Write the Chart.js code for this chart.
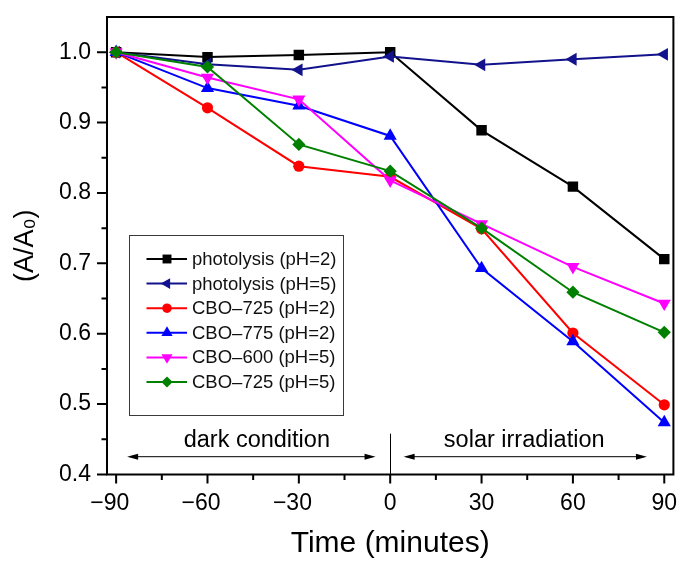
<!DOCTYPE html>
<html>
<head>
<meta charset="utf-8">
<script src="https://cdn.jsdelivr.net/npm/chart.js@4.4.1/dist/chart.umd.min.js"></script>
<style>
  html, body { margin: 0; padding: 0; background: #ffffff; }
  #wrap { width: 681px; height: 561px; }
</style>
</head>
<body>
<div id="wrap"><canvas id="c" width="681" height="561"></canvas></div>
<script>
// Sampling times (minutes); negative = dark adsorption, positive = solar irradiation
const times = [-90, -60, -30, 0, 30, 60, 90];

// Normalised absorbance A/A0 for each run
const photolysisPH2 = [1.000, 0.993, 0.996, 1.000, 0.889, 0.809, 0.706];
const photolysisPH5 = [1.000, 0.983, 0.975, 0.994, 0.982, 0.990, 0.997];
const cbo725PH2     = [1.000, 0.921, 0.838, 0.823, 0.749, 0.601, 0.499];
const cbo775PH2     = [1.000, 0.949, 0.924, 0.881, 0.693, 0.589, 0.474];
const cbo600PH5     = [1.000, 0.964, 0.933, 0.818, 0.756, 0.695, 0.643];
const cbo725PH5     = [1.000, 0.979, 0.869, 0.831, 0.750, 0.659, 0.602];

const seriesNames = [
  'photolysis (pH=2)',
  'photolysis (pH=5)',
  'CBO\u2013725 (pH=2)',
  'CBO\u2013775 (pH=2)',
  'CBO\u2013600 (pH=5)',
  'CBO\u2013725 (pH=5)'
];

// Axis tick values
const xTicks = [-90, -60, -30, 0, 30, 60, 90];
const yTicks = [0.4, 0.5, 0.6, 0.7, 0.8, 0.9, 1.0];

// Phase labels
const phaseLabels = ['dark condition', 'solar irradiation'];

const FONT = '"Liberation Sans", Arial, Helvetica, sans-serif';

const seriesValues = [photolysisPH2, photolysisPH5, cbo725PH2, cbo775PH2, cbo600PH5, cbo725PH5];
const seriesStyles = [
  { color: '#000000', pointStyle: 'rect',     radius: 7.4, rotation: 0 },
  { color: '#12128c', pointStyle: 'triangle', radius: 7.4, rotation: -90 },
  { color: '#ff0000', pointStyle: 'circle',   radius: 5.6, rotation: 0 },
  { color: '#0000ff', pointStyle: 'triangle', radius: 7.6, rotation: 0 },
  { color: '#ff00ff', pointStyle: 'triangle', radius: 7.6, rotation: 180 },
  { color: '#008000', pointStyle: 'rectRot',  radius: 6.6, rotation: 0 }
];

const datasets = seriesValues.map((vals, i) => {
  const s = seriesStyles[i];
  return {
    label: seriesNames[i],
    data: times.map((t, k) => ({ x: t, y: vals[k] })),
    borderColor: s.color,
    backgroundColor: s.color,
    borderWidth: 2,
    pointStyle: s.pointStyle,
    pointRadius: s.radius,
    pointRotation: s.rotation,
    pointBorderWidth: 0,
    pointBackgroundColor: s.color,
    tension: 0,
    order: seriesValues.length - i   // later series drawn on top
  };
});

function fmtX(v) {
  // digits stay centred on the tick; the minus sign hangs to the left
  return v < 0 ? '\u2212' + Math.abs(v) + '\u2007' : String(v);
}

function noOverflow(scale) {
  scale.paddingLeft = 0;
  scale.paddingRight = 0;
  scale.paddingTop = 0;
  scale.paddingBottom = 0;
}

// Frame, major/minor ticks, phase annotations and the boxed legend
const decorPlugin = {
  id: 'decor',
  afterDatasetsDraw(chart) {
    const ctx = chart.ctx;
    const xs = chart.scales.x, ys = chart.scales.y;
    const a = chart.chartArea;
    ctx.save();

    // phase annotations
    const yArrow = ys.getPixelForValue(0.426);
    const yText = ys.getPixelForValue(0.439);
    ctx.strokeStyle = '#000';
    ctx.fillStyle = '#000';
    ctx.lineWidth = 1;
    function arrowHead(x, y, dir) {
      ctx.beginPath();
      ctx.moveTo(x, y);
      ctx.lineTo(x - dir * 11, y - 3);
      ctx.lineTo(x - dir * 11, y + 3);
      ctx.closePath();
      ctx.fill();
    }
    function doubleArrow(v1, v2) {
      const x1 = xs.getPixelForValue(v1), x2 = xs.getPixelForValue(v2);
      ctx.beginPath();
      ctx.moveTo(x1 + 4, yArrow + 0.5);
      ctx.lineTo(x2 - 4, yArrow + 0.5);
      ctx.stroke();
      arrowHead(x1, yArrow + 0.5, -1);
      arrowHead(x2, yArrow + 0.5, 1);
    }
    doubleArrow(-86.4, -4.8);
    doubleArrow(4.4, 84.3);
    const x0 = Math.round(xs.getPixelForValue(0)) + 0.5;
    ctx.beginPath();
    ctx.moveTo(x0, ys.getPixelForValue(0.458));
    ctx.lineTo(x0, a.bottom);
    ctx.stroke();

    ctx.font = '23.5px ' + FONT;
    ctx.textAlign = 'center';
    ctx.textBaseline = 'alphabetic';
    ctx.fillText(phaseLabels[0], xs.getPixelForValue(-43.8), yText);
    ctx.fillText(phaseLabels[1], xs.getPixelForValue(44), yText);

    // legend box
    const lx = 129.5, ly = 235.5, lw = 214, lh = 180;
    ctx.fillStyle = '#ffffff';
    ctx.fillRect(lx, ly, lw, lh);
    ctx.strokeStyle = '#3a3a3a';
    ctx.lineWidth = 1;
    ctx.strokeRect(lx, ly, lw, lh);
    ctx.font = '18.5px ' + FONT;
    ctx.textAlign = 'left';
    ctx.textBaseline = 'middle';
    for (let i = 0; i < seriesNames.length; i++) {
      const s = seriesStyles[i];
      const ry = 259 + i * 24.6;
      ctx.strokeStyle = s.color;
      ctx.lineWidth = 2;
      ctx.beginPath();
      ctx.moveTo(146.5, ry);
      ctx.lineTo(187, ry);
      ctx.stroke();
      ctx.fillStyle = s.color;
      Chart.helpers.drawPoint(ctx, {
        pointStyle: s.pointStyle,
        radius: s.radius * 0.85,
        rotation: s.rotation,
        borderWidth: 0
      }, 167, ry);
      ctx.fillStyle = '#111';
      ctx.fillText(seriesNames[i], 192, ry + 1);
    }

    // frame
    ctx.strokeStyle = '#000';
    ctx.lineWidth = 2;
    ctx.strokeRect(a.left, a.top, a.right - a.left, a.bottom - a.top);

    // ticks (outward): major on labelled values, minor midway
    ctx.lineWidth = 2;
    ctx.beginPath();
    xTicks.forEach((v, i) => {
      const px = xs.getPixelForValue(v);
      ctx.moveTo(px, a.bottom); ctx.lineTo(px, a.bottom + 9);
      if (i < xTicks.length - 1) {
        const pm = xs.getPixelForValue((v + xTicks[i + 1]) / 2);
        ctx.moveTo(pm, a.bottom); ctx.lineTo(pm, a.bottom + 5.5);
      }
    });
    yTicks.forEach((v, i) => {
      const py = ys.getPixelForValue(v);
      ctx.moveTo(a.left, py); ctx.lineTo(a.left - 10, py);
      if (i < yTicks.length - 1) {
        const pm = ys.getPixelForValue((v + yTicks[i + 1]) / 2);
        ctx.moveTo(a.left, pm); ctx.lineTo(a.left - 5.5, pm);
      }
    });
    ctx.stroke();
    ctx.restore();
  }
};

new Chart(document.getElementById('c'), {
  type: 'line',
  data: { datasets },
  options: {
    responsive: false,
    animation: false,
    events: [],
    layout: { padding: { top: 17, right: 7, bottom: 0, left: 0 } },
    plugins: {
      legend: { display: false },
      tooltip: { enabled: false }
    },
    scales: {
      x: {
        type: 'linear',
        min: -93,
        max: 93,
        afterBuildTicks(scale) { scale.ticks = xTicks.map(v => ({ value: v })); },
        afterFit(scale) { scale.height = 86.5; noOverflow(scale); },
        grid: { display: false, drawTicks: false },
        border: { display: false },
        ticks: {
          padding: 15,
          color: '#000',
          font: { family: FONT, size: 23 },
          callback: v => fmtX(v)
        },
        title: {
          display: true,
          text: 'Time (minutes)',
          color: '#000',
          font: { family: FONT, size: 30, lineHeight: 1 },
          padding: { top: 0, bottom: 2 }
        }
      },
      y: {
        type: 'linear',
        min: 0.4,
        max: 1.05,
        afterBuildTicks(scale) { scale.ticks = yTicks.map(v => ({ value: v })); },
        afterFit(scale) { scale.width = 107; noOverflow(scale); },
        grid: { display: false, drawTicks: false },
        border: { display: false },
        ticks: {
          padding: 16,
          color: '#000',
          font: { family: FONT, size: 23 },
          callback: v => v.toFixed(1)
        },
        title: {
          display: true,
          text: '(A/A\u2080)',
          color: '#000',
          font: { family: FONT, size: 27, lineHeight: 1 },
          padding: { top: 12, bottom: 0 }
        }
      }
    }
  },
  plugins: [decorPlugin]
});
</script>
</body>
</html>
